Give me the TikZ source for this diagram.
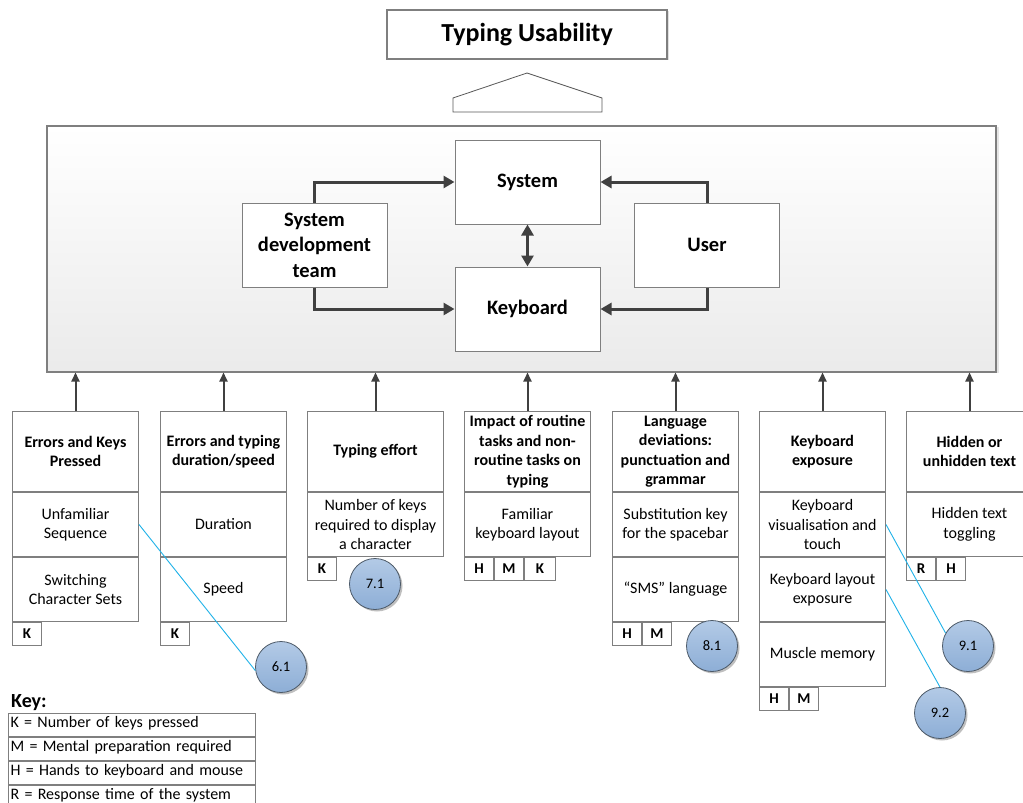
\documentclass[tikz,border=0pt]{standalone}
\usepackage{fontspec}
\setmainfont{Carlito}
\usetikzlibrary{arrows.meta,shadows}

\definecolor{edgegray}{HTML}{7F7F7F}
\definecolor{darkedge}{HTML}{595959}
\definecolor{arrowgray}{HTML}{404040}
\definecolor{linkblue}{HTML}{1FB2E8}
\definecolor{ballhi}{HTML}{B3CAE6}
\definecolor{balllo}{HTML}{8DAED6}
\definecolor{ballrim}{HTML}{4D5A68}

\begin{document}
\begin{tikzpicture}[x=1pt,y=-1pt,
  edge/.style={draw=edgegray, line width=1pt},
  cellbox/.style={edge, fill=white, inner sep=0pt, anchor=north west, align=center,
    minimum width=126pt, font=\fontsize{16}{19.5}\selectfont},
  headcell/.style={cellbox, minimum height=80pt, font=\bfseries\fontsize{16}{19.5}\selectfont},
  subcell/.style={cellbox, minimum height=64pt},
  tagbox/.style={edge, fill=white, inner sep=0pt, anchor=north west, minimum width=29pt,
    minimum height=23pt, font=\bfseries\fontsize{15}{18}\selectfont},
  innerbox/.style={edge, fill=white, align=center, inner sep=0pt, minimum width=145pt,
    minimum height=84pt, font=\bfseries\fontsize{20.5}{25.5}\selectfont},
  bigarrow/.style={draw=arrowgray, line width=3pt, -{Triangle[length=11pt,width=12pt]}},
  uparrow/.style={draw=arrowgray, line width=2pt, -{Triangle[length=9pt,width=8pt]}},
  ball/.style={circle, minimum size=51pt, inner sep=0pt, draw=ballrim, line width=0.8pt,
    top color=ballhi, bottom color=balllo, font=\fontsize{14.5}{16}\selectfont,
    drop shadow={shadow xshift=2pt, shadow yshift=-2pt, fill=black, opacity=0.25}},
  link/.style={draw=linkblue, line width=0.9pt},
  keyrow/.style={edge, anchor=north west, minimum width=247pt, minimum height=23pt,
    text width=243pt, inner xsep=2pt, inner ysep=0pt, text height=11pt, text depth=7pt,
    align=left, font=\fontsize{16}{19}\selectfont}
]
\useasboundingbox (0,0) rectangle (1023,803);
\clip (0,0) rectangle (1023,803);
\fill[white] (0,0) rectangle (1023,803);

% title and the generalisation marker below it
\node[draw=edgegray, line width=1.2pt, fill=white, minimum width=280pt, minimum height=49pt,
  inner sep=0pt, font=\bfseries\fontsize{26}{30}\selectfont,
  drop shadow={shadow xshift=2pt, shadow yshift=-1pt, fill=black, opacity=0.12}]
  (title) at (527,34.5) {Typing Usability};
\draw[draw=darkedge, line width=0.8pt, fill=white]
  (453,112) -- (453,98) -- (527,73) -- (602,98) -- (602,112) -- cycle;

% central frame
\node[draw=edgegray, line width=1.5pt, anchor=north west, minimum width=949pt,
  minimum height=246pt, inner sep=0pt, top color=white, bottom color=black!8,
  drop shadow={shadow xshift=3pt, shadow yshift=-1pt, fill=black, opacity=0.10}]
  (frame) at (46,125) {};

\node[innerbox] (system)   at (527.5,182) {System};
\node[innerbox] (keyboard) at (527.5,309) {Keyboard};
\node[innerbox] (devteam)  at (314.5,245) {System\\development\\team};
\node[innerbox] (user)     at (707,245)   {User};

\draw[bigarrow] (devteam.north) |- (system);
\draw[bigarrow] (devteam.south) |- (keyboard);
\draw[bigarrow] (user.north) |- (system);
\draw[bigarrow] (user.south) |- (keyboard);
\draw[draw=arrowgray, line width=3pt,
  {Triangle[length=11pt,width=12pt]}-{Triangle[length=11pt,width=12pt]}] (system) -- (keyboard);

% column 1
\node[headcell] (h1) at (12,411) {Errors and Keys\\Pressed};
\node[subcell] (c1a) at (h1.south west) {Unfamiliar\\Sequence};
\node[subcell] (c1b) at (c1a.south west) {Switching\\Character Sets};
\node[tagbox] (t1k) at (c1b.south west) {K};

% column 2
\node[headcell] (h2) at (160,411) {Errors and typing\\duration/speed};
\node[subcell] (c2a) at (h2.south west) {Duration};
\node[subcell] (c2b) at (c2a.south west) {Speed};
\node[tagbox] (t2k) at (c2b.south west) {K};

% column 3
\node[headcell, minimum width=136pt] (h3) at (307,411) {Typing effort};
\node[subcell, minimum width=136pt] (c3a) at (h3.south west) {Number of keys\\required to display\\a character};
\node[tagbox] (t3k) at (c3a.south west) {K};

% column 4
\node[headcell] (h4) at (464,411) {Impact of routine\\tasks and non-\\routine tasks on\\typing};
\node[subcell] (c4a) at (h4.south west) {Familiar\\keyboard layout};
\node[tagbox] (t4h) at (c4a.south west) {H};
\node[tagbox] (t4m) at (t4h.north east) {M};
\node[tagbox, minimum width=31pt] (t4k) at (t4m.north east) {K};

% column 5
\node[headcell] (h5) at (612,411) {Language\\deviations:\\punctuation and\\grammar};
\node[subcell] (c5a) at (h5.south west) {Substitution key\\for the spacebar};
\node[subcell] (c5b) at (c5a.south west) {“SMS” language};
\node[tagbox] (t5h) at (c5b.south west) {H};
\node[tagbox] (t5m) at (t5h.north east) {M};

% column 6
\node[headcell] (h6) at (759,411) {Keyboard\\exposure};
\node[subcell] (c6a) at (h6.south west) {Keyboard\\visualisation and\\touch};
\node[subcell] (c6b) at (c6a.south west) {Keyboard layout\\exposure};
\node[subcell] (c6c) at (c6b.south west) {Muscle memory};
\node[tagbox] (t6h) at (c6c.south west) {H};
\node[tagbox] (t6m) at (t6h.north east) {M};

% column 7
\node[headcell] (h7) at (906,411) {Hidden or\\unhidden text};
\node[subcell] (c7a) at (h7.south west) {Hidden text\\toggling};
\node[tagbox] (t7r) at (c7a.south west) {R};
\node[tagbox] (t7h) at (t7r.north east) {H};

% columns feed the frame
\foreach \c in {h1,h2,h3,h4,h5,h6,h7}
  \draw[uparrow] (\c.north) -- (\c.north |- frame.south);

% reference balls
\node[ball] (b61) at (281,667) {6.1};
\node[ball] (b71) at (375,584) {7.1};
\node[ball] (b81) at (712,646) {8.1};
\node[ball] (b91) at (968,646) {9.1};
\node[ball] (b92) at (940,713) {9.2};

\draw[link] (c1a.east) -- (b61.188);
\draw[link] (c6a.east) -- (b91.150);
\draw[link] (c6b.east) -- (b92.north);

% key
\node[anchor=base west, inner sep=0pt, font=\bfseries\fontsize{20}{24}\selectfont]
  (keytitle) at (11,707) {Key:};
\node[keyrow] (k1) at (8,713) {K = Number of keys pressed};
\node[keyrow] (k2) at (k1.south west) {M = Mental preparation required};
\node[keyrow] (k3) at (k2.south west) {H = Hands to keyboard and mouse};
\node[keyrow] (k4) at (k3.south west) {R = Response time of the system};
\end{tikzpicture}
\end{document}
